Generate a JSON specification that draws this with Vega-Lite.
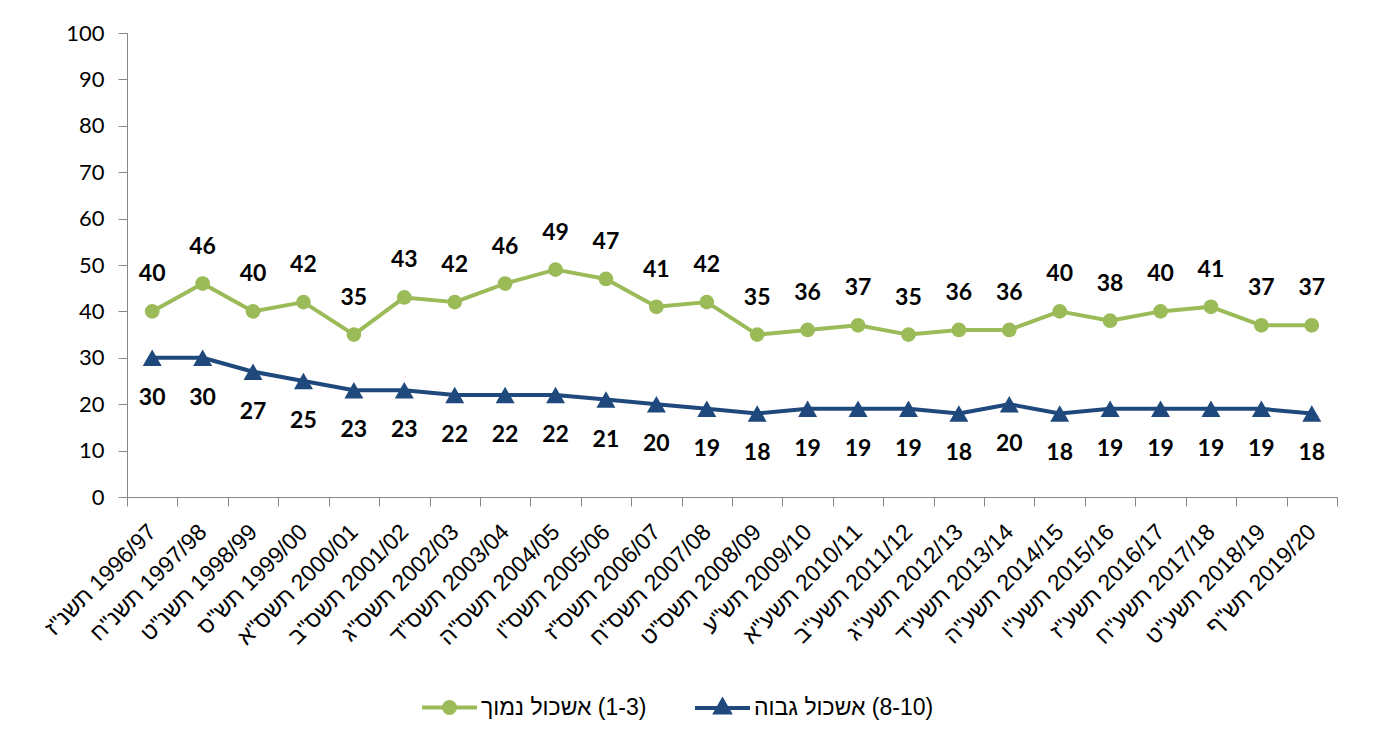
{
  "$schema": "https://vega.github.io/schema/vega-lite/v6.json",
  "autosize": "none",
  "width": 1210,
  "height": 464,
  "padding": {"left": 127, "top": 33, "right": 36, "bottom": 247},
  "background": "white",
  "config": {
    "view": {"stroke": null},
    "axis": {"grid": false, "domainColor": "#868686", "tickColor": "#868686", "labelColor": "#000000", "domainWidth": 1, "tickWidth": 1}
  },
  "datasets": {
    "rows": [
      {"year": "תשנ\"ז‎ 1996/97", "series": "אשכול נמוך‎ (1-3)", "value": 40},
      {"year": "תשנ\"ח‎ 1997/98", "series": "אשכול נמוך‎ (1-3)", "value": 46},
      {"year": "תשנ\"ט‎ 1998/99", "series": "אשכול נמוך‎ (1-3)", "value": 40},
      {"year": "תש\"ס‎ 1999/00", "series": "אשכול נמוך‎ (1-3)", "value": 42},
      {"year": "תשס\"א‎ 2000/01", "series": "אשכול נמוך‎ (1-3)", "value": 35},
      {"year": "תשס\"ב‎ 2001/02", "series": "אשכול נמוך‎ (1-3)", "value": 43},
      {"year": "תשס\"ג‎ 2002/03", "series": "אשכול נמוך‎ (1-3)", "value": 42},
      {"year": "תשס\"ד‎ 2003/04", "series": "אשכול נמוך‎ (1-3)", "value": 46},
      {"year": "תשס\"ה‎ 2004/05", "series": "אשכול נמוך‎ (1-3)", "value": 49},
      {"year": "תשס\"ו‎ 2005/06", "series": "אשכול נמוך‎ (1-3)", "value": 47},
      {"year": "תשס\"ז‎ 2006/07", "series": "אשכול נמוך‎ (1-3)", "value": 41},
      {"year": "תשס\"ח‎ 2007/08", "series": "אשכול נמוך‎ (1-3)", "value": 42},
      {"year": "תשס\"ט‎ 2008/09", "series": "אשכול נמוך‎ (1-3)", "value": 35},
      {"year": "תש\"ע‎ 2009/10", "series": "אשכול נמוך‎ (1-3)", "value": 36},
      {"year": "תשע\"א‎ 2010/11", "series": "אשכול נמוך‎ (1-3)", "value": 37},
      {"year": "תשע\"ב‎ 2011/12", "series": "אשכול נמוך‎ (1-3)", "value": 35},
      {"year": "תשע\"ג‎ 2012/13", "series": "אשכול נמוך‎ (1-3)", "value": 36},
      {"year": "תשע\"ד‎ 2013/14", "series": "אשכול נמוך‎ (1-3)", "value": 36},
      {"year": "תשע\"ה‎ 2014/15", "series": "אשכול נמוך‎ (1-3)", "value": 40},
      {"year": "תשע\"ו‎ 2015/16", "series": "אשכול נמוך‎ (1-3)", "value": 38},
      {"year": "תשע\"ז‎ 2016/17", "series": "אשכול נמוך‎ (1-3)", "value": 40},
      {"year": "תשע\"ח‎ 2017/18", "series": "אשכול נמוך‎ (1-3)", "value": 41},
      {"year": "תשע\"ט‎ 2018/19", "series": "אשכול נמוך‎ (1-3)", "value": 37},
      {"year": "תש\"ף‎ 2019/20", "series": "אשכול נמוך‎ (1-3)", "value": 37},
      {"year": "תשנ\"ז‎ 1996/97", "series": "אשכול גבוה‎ (8-10)", "value": 30},
      {"year": "תשנ\"ח‎ 1997/98", "series": "אשכול גבוה‎ (8-10)", "value": 30},
      {"year": "תשנ\"ט‎ 1998/99", "series": "אשכול גבוה‎ (8-10)", "value": 27},
      {"year": "תש\"ס‎ 1999/00", "series": "אשכול גבוה‎ (8-10)", "value": 25},
      {"year": "תשס\"א‎ 2000/01", "series": "אשכול גבוה‎ (8-10)", "value": 23},
      {"year": "תשס\"ב‎ 2001/02", "series": "אשכול גבוה‎ (8-10)", "value": 23},
      {"year": "תשס\"ג‎ 2002/03", "series": "אשכול גבוה‎ (8-10)", "value": 22},
      {"year": "תשס\"ד‎ 2003/04", "series": "אשכול גבוה‎ (8-10)", "value": 22},
      {"year": "תשס\"ה‎ 2004/05", "series": "אשכול גבוה‎ (8-10)", "value": 22},
      {"year": "תשס\"ו‎ 2005/06", "series": "אשכול גבוה‎ (8-10)", "value": 21},
      {"year": "תשס\"ז‎ 2006/07", "series": "אשכול גבוה‎ (8-10)", "value": 20},
      {"year": "תשס\"ח‎ 2007/08", "series": "אשכול גבוה‎ (8-10)", "value": 19},
      {"year": "תשס\"ט‎ 2008/09", "series": "אשכול גבוה‎ (8-10)", "value": 18},
      {"year": "תש\"ע‎ 2009/10", "series": "אשכול גבוה‎ (8-10)", "value": 19},
      {"year": "תשע\"א‎ 2010/11", "series": "אשכול גבוה‎ (8-10)", "value": 19},
      {"year": "תשע\"ב‎ 2011/12", "series": "אשכול גבוה‎ (8-10)", "value": 19},
      {"year": "תשע\"ג‎ 2012/13", "series": "אשכול גבוה‎ (8-10)", "value": 18},
      {"year": "תשע\"ד‎ 2013/14", "series": "אשכול גבוה‎ (8-10)", "value": 20},
      {"year": "תשע\"ה‎ 2014/15", "series": "אשכול גבוה‎ (8-10)", "value": 18},
      {"year": "תשע\"ו‎ 2015/16", "series": "אשכול גבוה‎ (8-10)", "value": 19},
      {"year": "תשע\"ז‎ 2016/17", "series": "אשכול גבוה‎ (8-10)", "value": 19},
      {"year": "תשע\"ח‎ 2017/18", "series": "אשכול גבוה‎ (8-10)", "value": 19},
      {"year": "תשע\"ט‎ 2018/19", "series": "אשכול גבוה‎ (8-10)", "value": 19},
      {"year": "תש\"ף‎ 2019/20", "series": "אשכול גבוה‎ (8-10)", "value": 18}
    ]
  },
  "data": {"name": "rows"},
  "encoding": {
    "x": {
      "field": "year", "type": "nominal", "sort": null,
      "scale": {"type": "band", "paddingInner": 0, "paddingOuter": 0},
      "axis": {
        "title": null, "tickBand": "extent", "tickSize": 9, "labelAngle": -45,
        "labelAlign": "right", "labelBaseline": "middle", "labelPadding": 22,
        "labelFont": "Liberation Sans", "labelFontSize": 23, "labelOverlap": false, "labelLimit": 300
      }
    },
    "y": {
      "field": "value", "type": "quantitative",
      "scale": {"domain": [0, 100], "nice": false},
      "axis": {
        "title": null, "values": [0, 10, 20, 30, 40, 50, 60, 70, 80, 90, 100],
        "tickSize": 9, "labelPadding": 14, "labelFont": "Lato", "labelFontSize": 22
      }
    }
  },
  "layer": [
    {
      "mark": {"type": "line", "strokeWidth": 4, "strokeJoin": "round"},
      "encoding": {
        "color": {
          "field": "series", "type": "nominal",
          "scale": {"domain": ["אשכול נמוך‎ (1-3)", "אשכול גבוה‎ (8-10)"], "range": ["#9BBB59", "#1F497D"]},
          "legend": {
            "title": null, "orient": "none", "direction": "horizontal",
            "legendX": 293, "legendY": 645, "padding": 0,
            "labelFont": "Liberation Sans", "labelFontSize": 23, "labelColor": "#000000",
            "labelLimit": 400, "labelOffset": 2, "columnPadding": 40,
            "symbolType": "M-1,0L1,0", "symbolSize": 3025, "symbolStrokeWidth": 4,
            "encode": {
              "symbols": {
                "update": {
                  "shape": {"signal": "datum.index === 0 ? 'M-1,0L1,0M-0.2,0A0.2,0.2 0 1,0 0.2,0A0.2,0.2 0 1,0 -0.2,0Z' : 'M-1,0L1,0M0,-0.27L0.25,0.17L-0.25,0.17Z'"},
                  "fill": {"scale": "color", "field": "value"},
                  "fillOpacity": {"value": 1},
                  "stroke": {"scale": "color", "field": "value"},
                  "strokeWidth": {"value": 4}
                }
              }
            }
          }
        }
      }
    },
    {
      "transform": [{"filter": "datum.series === 'אשכול נמוך‎ (1-3)'"}],
      "mark": {"type": "point", "shape": "circle", "filled": true, "opacity": 1, "size": 218, "color": "#9BBB59"}
    },
    {
      "transform": [{"filter": "datum.series === 'אשכול גבוה‎ (8-10)'"}],
      "mark": {"type": "point", "shape": "triangle-up", "filled": true, "opacity": 1, "size": 361, "color": "#1F497D"}
    },
    {
      "transform": [{"filter": "datum.series === 'אשכול נמוך‎ (1-3)'"}],
      "mark": {"type": "text", "dy": -37, "font": "Lato", "fontWeight": "bold", "fontSize": 23, "color": "#000000"},
      "encoding": {"text": {"field": "value", "type": "quantitative"}}
    },
    {
      "transform": [{"filter": "datum.series === 'אשכול גבוה‎ (8-10)'"}],
      "mark": {"type": "text", "dy": 40, "font": "Lato", "fontWeight": "bold", "fontSize": 23, "color": "#000000"},
      "encoding": {"text": {"field": "value", "type": "quantitative"}}
    }
  ]
}
